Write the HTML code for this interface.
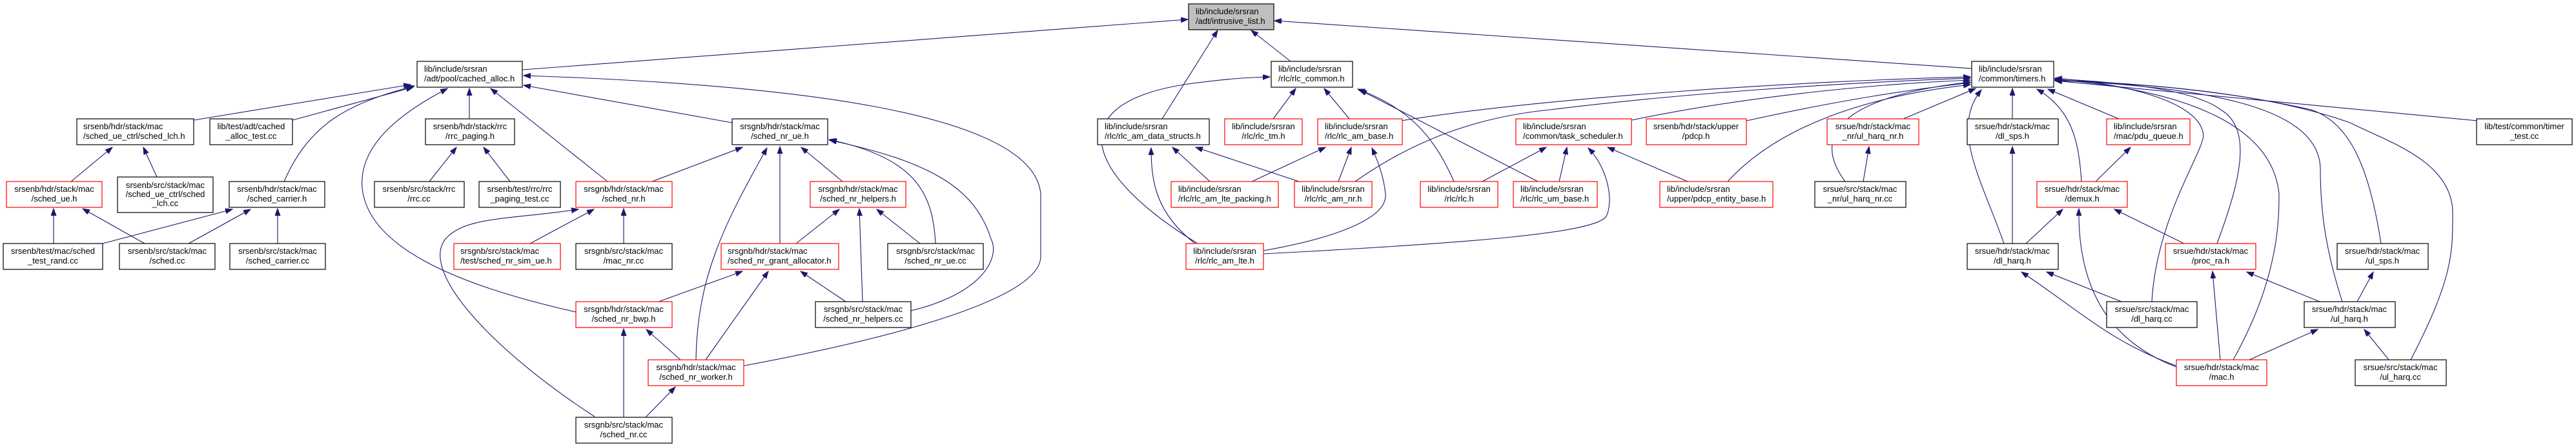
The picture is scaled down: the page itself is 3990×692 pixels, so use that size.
<!DOCTYPE html>
<html><head><meta charset="utf-8"><style>
html,body{margin:0;padding:0;background:#fff;}
svg{display:block;}
text{font-family:"Liberation Sans",Arial,sans-serif;font-size:13px;fill:#000;}
.e{fill:none;stroke:#191970;stroke-width:1.1;marker-end:url(#a);}
.b{fill:#fff;stroke:#000;stroke-width:1.2;}
.r{fill:#fff;stroke:#ff0000;stroke-width:1.2;}
.g{fill:#bfbfbf;stroke:#000;stroke-width:1.2;}
.m{text-anchor:middle;}
</style></head><body>
<svg width="3990" height="692" viewBox="0 0 3990 692" xmlns="http://www.w3.org/2000/svg">
<defs><marker id="a" markerUnits="userSpaceOnUse" markerWidth="12" markerHeight="9" refX="11" refY="4" orient="auto"><path d="M0,0 L11,4 L0,8 z" fill="#191970" stroke="#191970"/></marker></defs>

<!-- edges -->
<g>
<!-- to intrusive_list -->
<path class="e" d="M809,108 L1840,30"/>
<path class="e" d="M1800,184 L1886,47"/>
<path class="e" d="M1999,95 L1938,47"/>
<path class="e" d="M3054,106 L1974,32"/>
<!-- to cached_alloc -->
<path class="e" d="M300,186 L636,131"/>
<path class="e" d="M453,186 L640,135"/>
<path class="e" d="M440,281 C480,190 540,160 642,133"/>
<path class="e" d="M892,483 C700,440 570,380 561,291 C555,220 630,170 693,137"/>
<path class="e" d="M727,184 L727,137"/>
<path class="e" d="M941,281 L760,137"/>
<path class="e" d="M1134,190 L811,132"/>
<path class="e" d="M1153,566 C1400,520 1612,460 1612,397 L1612,300 C1600,170 1200,130 811,117"/>
<!-- sched_lch / sched_ue / sched_carrier -->
<path class="e" d="M110,281 L174,228"/>
<path class="e" d="M243,274 L222,228"/>
<path class="e" d="M83,377 L83,323"/>
<path class="e" d="M224,377 L128,323"/>
<path class="e" d="M159,377 L360,324"/>
<path class="e" d="M292,377 L388,324"/>
<path class="e" d="M430,377 L430,323"/>
<!-- rrc_paging -->
<path class="e" d="M665,281 L707,228"/>
<path class="e" d="M790,281 L749,228"/>
<!-- sched_nr.h -->
<path class="e" d="M821,377 L920,324"/>
<path class="e" d="M966,377 L966,323"/>
<path class="e" d="M921,645 C760,540 650,420 690,370 C720,335 790,340 896,324"/>
<!-- sched_nr_ue.h -->
<path class="e" d="M1010,281 L1150,228"/>
<path class="e" d="M1078,557 C1080,430 1120,350 1188,229"/>
<path class="e" d="M1208,377 L1208,227"/>
<path class="e" d="M1305,281 L1241,228"/>
<path class="e" d="M1449,377 C1445,300 1420,245 1284,216"/>
<path class="e" d="M1411,481 C1520,455 1550,400 1535,370 C1510,290 1440,250 1285,217"/>
<!-- sched_nr_helpers.h -->
<path class="e" d="M1233,377 L1300,324"/>
<path class="e" d="M1336,467 L1331,323"/>
<path class="e" d="M1425,377 L1358,324"/>
<!-- grant allocator -->
<path class="e" d="M1020,467 L1150,420"/>
<path class="e" d="M1093,557 L1190,420"/>
<path class="e" d="M1310,467 L1240,420"/>
<!-- bwp / worker -->
<path class="e" d="M966,646 L966,509"/>
<path class="e" d="M1054,557 L1001,510"/>
<path class="e" d="M1000,646 L1046,599"/>
<!-- rlc_common -->
<path class="e" d="M1855,377 C1680,270 1640,160 1840,130 C1900,122 1930,120 1967,119"/>
<path class="e" d="M1972,184 L2007,137"/>
<path class="e" d="M2090,184 L2051,137"/>
<path class="e" d="M2252,281 C2225,220 2190,170 2103,138"/>
<path class="e" d="M2382,281 L2106,139"/>
<!-- rlc_am_data_structs -->
<path class="e" d="M1851,377 C1790,330 1783,280 1783,229"/>
<path class="e" d="M1874,281 L1816,228"/>
<path class="e" d="M2012,281 L1852,228"/>
<!-- rlc_am_base -->
<path class="e" d="M1939,281 L2053,228"/>
<path class="e" d="M2073,281 L2093,228"/>
<path class="e" d="M1957,388 C2060,370 2150,340 2146,300 C2143,270 2132,245 2125,229"/>
<!-- task_scheduler -->
<path class="e" d="M2296,281 L2395,228"/>
<path class="e" d="M2415,281 L2427,228"/>
<path class="e" d="M1957,393 C2300,375 2470,360 2488,335 C2500,310 2490,260 2460,229"/>
<path class="e" d="M2614,281 L2490,228"/>
<!-- timers.h from left -->
<path class="e" d="M2170,187 C2400,150 2800,125 3052,119"/>
<path class="e" d="M2099,281 C2200,210 2300,180 2400,170 C2600,145 2850,128 3052,121"/>
<path class="e" d="M2527,186 C2700,150 2900,130 3052,124"/>
<path class="e" d="M2705,187 C2850,155 2950,140 3052,128"/>
<path class="e" d="M2858,281 C2805,210 2850,150 3052,127"/>
<path class="e" d="M2676,281 C2750,200 2880,150 3052,131"/>
<path class="e" d="M2948,184 L3060,137"/>
<path class="e" d="M3104,377 C3070,280 3020,200 3069,139"/>
<path class="e" d="M3117,184 L3117,137"/>
<path class="e" d="M3224,281 C3220,220 3210,170 3155,138"/>
<path class="e" d="M3282,184 L3172,138"/>
<!-- timers.h from right -->
<path class="e" d="M3333,467 C3340,340 3410,240 3413,210 C3410,160 3300,130 3183,121"/>
<path class="e" d="M3434,377 C3470,280 3490,200 3440,170 C3400,140 3300,128 3183,122"/>
<path class="e" d="M3459,557 C3530,430 3530,340 3530,300 C3520,200 3400,140 3183,123"/>
<path class="e" d="M3628,467 C3600,380 3594,320 3594,260 C3590,160 3400,135 3183,124"/>
<path class="e" d="M3688,377 C3670,260 3640,190 3580,170 C3450,140 3300,128 3183,124"/>
<path class="e" d="M3734,557 C3800,430 3799,390 3799,330 C3799,250 3700,220 3640,190 C3500,140 3300,128 3183,125"/>
<path class="e" d="M3838,187 L3183,125"/>
<!-- srsue mac -->
<path class="e" d="M3117,377 L3117,227"/>
<path class="e" d="M3246,281 L3300,228"/>
<path class="e" d="M3138,377 L3195,324"/>
<path class="e" d="M3371,568 C3270,530 3218,450 3220,323"/>
<path class="e" d="M3383,377 L3275,324"/>
<path class="e" d="M3286,467 L3170,421"/>
<path class="e" d="M3370,566 C3270,530 3220,480 3131,421"/>
<path class="e" d="M3439,557 L3427,420"/>
<path class="e" d="M3593,467 L3480,421"/>
<path class="e" d="M3651,467 L3676,421"/>
<path class="e" d="M3484,557 L3590,510"/>
<path class="e" d="M3700,557 L3662,510"/>
<path class="e" d="M2886,281 L2895,227"/>
</g>

<!-- nodes -->
<g>
<rect class="g" x="1841" y="6" width="132" height="40"/><text x="1852" y="22">lib/include/srsran</text><text x="1852" y="37">/adt/intrusive_list.h</text>

<rect class="b" x="646" y="95" width="163" height="40"/><text x="657" y="111">lib/include/srsran</text><text x="657" y="126">/adt/pool/cached_alloc.h</text>
<rect class="b" x="1969" y="95" width="126" height="40"/><text x="1980" y="111">lib/include/srsran</text><text x="1980" y="126">/rlc/rlc_common.h</text>
<rect class="b" x="3054" y="95" width="127" height="40"/><text x="3065" y="111">lib/include/srsran</text><text x="3065" y="126">/common/timers.h</text>

<rect class="b" x="119" y="184" width="181" height="40"/><text x="129" y="200">srsenb/hdr/stack/mac</text><text x="129" y="215">/sched_ue_ctrl/sched_lch.h</text>
<rect class="b" x="325" y="184" width="128" height="40"/><text class="m" x="389" y="200">lib/test/adt/cached</text><text class="m" x="389" y="215">_alloc_test.cc</text>
<rect class="b" x="659" y="184" width="138" height="40"/><text class="m" x="728" y="200">srsenb/hdr/stack/rrc</text><text class="m" x="728" y="215">/rrc_paging.h</text>
<rect class="b" x="1134" y="184" width="148" height="40"/><text class="m" x="1208" y="200">srsgnb/hdr/stack/mac</text><text class="m" x="1208" y="215">/sched_nr_ue.h</text>
<rect class="b" x="1700" y="184" width="173" height="40"/><text x="1711" y="200">lib/include/srsran</text><text x="1711" y="215">/rlc/rlc_am_data_structs.h</text>
<rect class="r" x="1897" y="184" width="120" height="40"/><text class="m" x="1957" y="200">lib/include/srsran</text><text class="m" x="1957" y="215">/rlc/rlc_tm.h</text>
<rect class="r" x="2041" y="184" width="131" height="40"/><text x="2052" y="200">lib/include/srsran</text><text x="2052" y="215">/rlc/rlc_am_base.h</text>
<rect class="r" x="2348" y="184" width="179" height="40"/><text x="2359" y="200">lib/include/srsran</text><text x="2359" y="215">/common/task_scheduler.h</text>
<rect class="r" x="2550" y="184" width="155" height="40"/><text class="m" x="2627" y="200">srsenb/hdr/stack/upper</text><text class="m" x="2627" y="215">/pdcp.h</text>
<rect class="r" x="2830" y="184" width="142" height="40"/><text class="m" x="2901" y="200">srsue/hdr/stack/mac</text><text class="m" x="2901" y="215">_nr/ul_harq_nr.h</text>
<rect class="b" x="3047" y="184" width="141" height="40"/><text class="m" x="3117" y="200">srsue/hdr/stack/mac</text><text class="m" x="3117" y="215">/dl_sps.h</text>
<rect class="r" x="3263" y="184" width="129" height="40"/><text x="3274" y="200">lib/include/srsran</text><text x="3274" y="215">/mac/pdu_queue.h</text>
<rect class="b" x="3836" y="184" width="148" height="40"/><text class="m" x="3910" y="200">lib/test/common/timer</text><text class="m" x="3910" y="215">_test.cc</text>

<rect class="r" x="10" y="281" width="148" height="40"/><text class="m" x="84" y="297">srsenb/hdr/stack/mac</text><text class="m" x="84" y="312">/sched_ue.h</text>
<rect class="b" x="182" y="274" width="148" height="55"/><text class="m" x="256" y="291">srsenb/src/stack/mac</text><text class="m" x="256" y="305">/sched_ue_ctrl/sched</text><text class="m" x="256" y="319">_lch.cc</text>
<rect class="b" x="355" y="281" width="148" height="40"/><text class="m" x="429" y="297">srsenb/hdr/stack/mac</text><text class="m" x="429" y="312">/sched_carrier.h</text>
<rect class="b" x="580" y="281" width="139" height="40"/><text class="m" x="649" y="297">srsenb/src/stack/rrc</text><text class="m" x="649" y="312">/rrc.cc</text>
<rect class="b" x="742" y="281" width="126" height="40"/><text class="m" x="805" y="297">srsenb/test/rrc/rrc</text><text class="m" x="805" y="312">_paging_test.cc</text>
<rect class="r" x="892" y="281" width="149" height="40"/><text class="m" x="966" y="297">srsgnb/hdr/stack/mac</text><text class="m" x="966" y="312">/sched_nr.h</text>
<rect class="r" x="1255" y="281" width="148" height="40"/><text class="m" x="1329" y="297">srsgnb/hdr/stack/mac</text><text class="m" x="1329" y="312">/sched_nr_helpers.h</text>
<rect class="r" x="1814" y="281" width="166" height="40"/><text x="1825" y="297">lib/include/srsran</text><text x="1825" y="312">/rlc/rlc_am_lte_packing.h</text>
<rect class="r" x="2005" y="281" width="120" height="40"/><text class="m" x="2065" y="297">lib/include/srsran</text><text class="m" x="2065" y="312">/rlc/rlc_am_nr.h</text>
<rect class="r" x="2200" y="281" width="120" height="40"/><text class="m" x="2260" y="297">lib/include/srsran</text><text class="m" x="2260" y="312">/rlc/rlc.h</text>
<rect class="r" x="2344" y="281" width="130" height="40"/><text x="2355" y="297">lib/include/srsran</text><text x="2355" y="312">/rlc/rlc_um_base.h</text>
<rect class="r" x="2571" y="281" width="175" height="40"/><text x="2582" y="297">lib/include/srsran</text><text x="2582" y="312">/upper/pdcp_entity_base.h</text>
<rect class="b" x="2811" y="281" width="141" height="40"/><text class="m" x="2881" y="297">srsue/src/stack/mac</text><text class="m" x="2881" y="312">_nr/ul_harq_nr.cc</text>
<rect class="r" x="3155" y="281" width="140" height="40"/><text class="m" x="3225" y="297">srsue/hdr/stack/mac</text><text class="m" x="3225" y="312">/demux.h</text>

<rect class="b" x="5" y="377" width="154" height="40"/><text class="m" x="82" y="393">srsenb/test/mac/sched</text><text class="m" x="82" y="408">_test_rand.cc</text>
<rect class="b" x="185" y="377" width="148" height="40"/><text class="m" x="259" y="393">srsenb/src/stack/mac</text><text class="m" x="259" y="408">/sched.cc</text>
<rect class="b" x="356" y="377" width="148" height="40"/><text class="m" x="430" y="393">srsenb/src/stack/mac</text><text class="m" x="430" y="408">/sched_carrier.cc</text>
<rect class="r" x="703" y="377" width="165" height="40"/><text x="713" y="393">srsgnb/src/stack/mac</text><text x="713" y="408">/test/sched_nr_sim_ue.h</text>
<rect class="b" x="892" y="377" width="149" height="40"/><text class="m" x="966" y="393">srsgnb/src/stack/mac</text><text class="m" x="966" y="408">/mac_nr.cc</text>
<rect class="r" x="1117" y="377" width="182" height="40"/><text x="1127" y="393">srsgnb/hdr/stack/mac</text><text x="1127" y="408">/sched_nr_grant_allocator.h</text>
<rect class="b" x="1375" y="377" width="148" height="40"/><text class="m" x="1449" y="393">srsgnb/src/stack/mac</text><text class="m" x="1449" y="408">/sched_nr_ue.cc</text>
<rect class="r" x="1837" y="377" width="120" height="40"/><text class="m" x="1897" y="393">lib/include/srsran</text><text class="m" x="1897" y="408">/rlc/rlc_am_lte.h</text>
<rect class="b" x="3047" y="377" width="141" height="40"/><text class="m" x="3117" y="393">srsue/hdr/stack/mac</text><text class="m" x="3117" y="408">/dl_harq.h</text>
<rect class="r" x="3354" y="377" width="140" height="40"/><text class="m" x="3424" y="393">srsue/hdr/stack/mac</text><text class="m" x="3424" y="408">/proc_ra.h</text>
<rect class="b" x="3620" y="377" width="141" height="40"/><text class="m" x="3690" y="393">srsue/hdr/stack/mac</text><text class="m" x="3690" y="408">/ul_sps.h</text>

<rect class="r" x="892" y="467" width="149" height="40"/><text class="m" x="966" y="483">srsgnb/hdr/stack/mac</text><text class="m" x="966" y="498">/sched_nr_bwp.h</text>
<rect class="b" x="1263" y="467" width="148" height="40"/><text class="m" x="1337" y="483">srsgnb/src/stack/mac</text><text class="m" x="1337" y="498">/sched_nr_helpers.cc</text>
<rect class="b" x="3263" y="467" width="140" height="40"/><text class="m" x="3333" y="483">srsue/src/stack/mac</text><text class="m" x="3333" y="498">/dl_harq.cc</text>
<rect class="b" x="3569" y="467" width="141" height="40"/><text class="m" x="3639" y="483">srsue/hdr/stack/mac</text><text class="m" x="3639" y="498">/ul_harq.h</text>

<rect class="r" x="1004" y="557" width="148" height="40"/><text class="m" x="1078" y="573">srsgnb/hdr/stack/mac</text><text class="m" x="1078" y="588">/sched_nr_worker.h</text>
<rect class="r" x="3371" y="557" width="140" height="40"/><text class="m" x="3441" y="573">srsue/hdr/stack/mac</text><text class="m" x="3441" y="588">/mac.h</text>
<rect class="b" x="3648" y="557" width="141" height="40"/><text class="m" x="3718" y="573">srsue/src/stack/mac</text><text class="m" x="3718" y="588">/ul_harq.cc</text>

<rect class="b" x="892" y="646" width="149" height="40"/><text class="m" x="966" y="662">srsgnb/src/stack/mac</text><text class="m" x="966" y="677">/sched_nr.cc</text>
</g>
</svg>
</body></html>
